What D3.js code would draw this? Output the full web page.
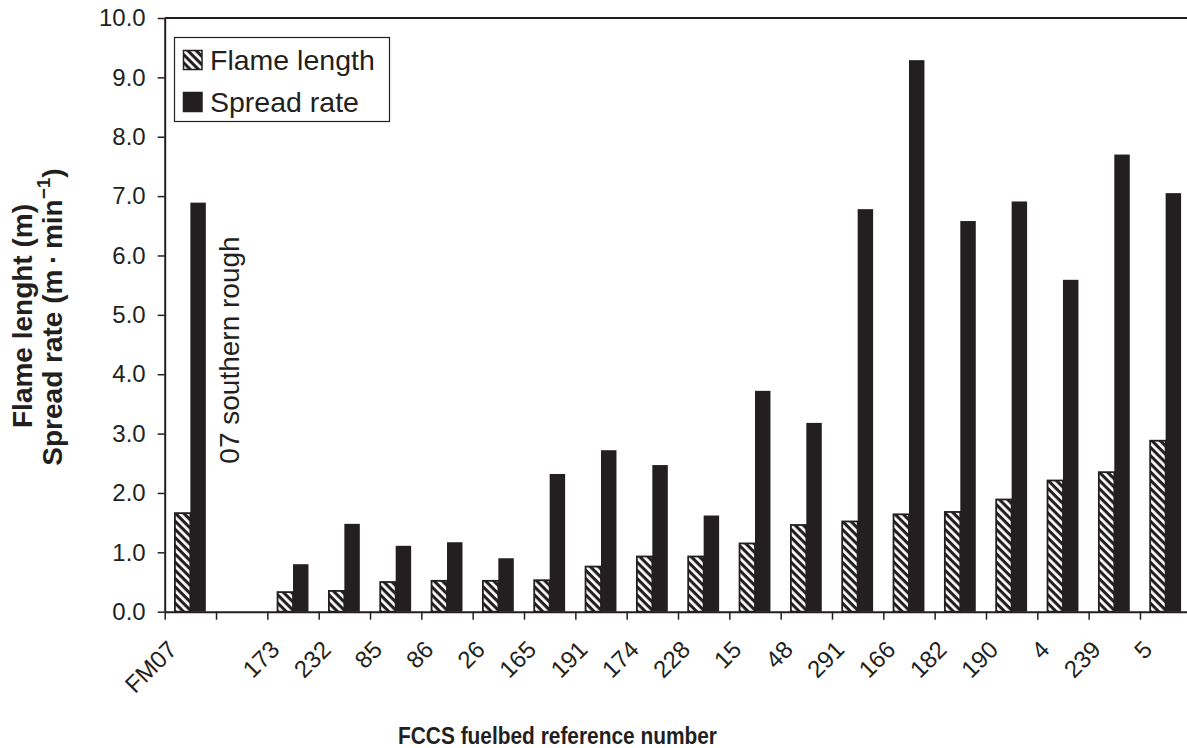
<!DOCTYPE html>
<html>
<head>
<meta charset="utf-8">
<script src="https://cdn.jsdelivr.net/npm/d3@7"></script>
<style>
  html, body { margin: 0; padding: 0; background: #fff; }
  svg { display: block; font-family: "Liberation Sans", Arial, Helvetica, sans-serif; }
</style>
</head>
<body>
<svg id="chart" width="1187" height="748"></svg>
<script>
// Fuelbed categories (second slot is an intentional empty gap)
const categories = ["FM07", "", "173", "232", "85", "86", "26", "165", "191", "174",
                    "228", "15", "48", "291", "166", "182", "190", "4", "239", "5"];
// Flame length (m)
const flameLength = [1.66, null, 0.33, 0.35, 0.50, 0.52, 0.52, 0.53, 0.76, 0.93,
                     0.93, 1.15, 1.46, 1.52, 1.64, 1.68, 1.89, 2.21, 2.35, 2.88];
// Spread rate (m·min⁻¹)
const spreadRate = [6.89, null, 0.80, 1.48, 1.11, 1.17, 0.90, 2.32, 2.72, 2.47,
                    1.62, 3.72, 3.18, 6.78, 9.29, 6.58, 6.91, 5.59, 7.70, 7.05];
const seriesKeys = ["flame", "spread"];
const seriesNames = ["Flame length", "Spread rate"];
const yTicks = [0, 1, 2, 3, 4, 5, 6, 7, 8, 9, 10];

const ink = "#231f20";
const svg = d3.select("#chart");

const plot = { left: 164.7, right: 1191.3, top: 18, bottom: 611.7 };

const rows = categories.map((c, i) => ({ i, label: c, flame: flameLength[i], spread: spreadRate[i] }));

const x = d3.scaleBand().domain(d3.range(categories.length)).range([plot.left, plot.right]).padding(0);
const xInner = d3.scaleBand().domain(seriesKeys).range([0, x.step()]).paddingInner(0).paddingOuter(0.66);
const xEdges = d3.scaleLinear().domain([0, categories.length]).range([plot.left, plot.right]);
const y = d3.scaleLinear().domain([0, 10]).range([plot.bottom, plot.top]);

// Diagonal hatch for flame length
const defs = svg.append("defs");
const pat = defs.append("pattern")
  .attr("id", "hatch")
  .attr("patternUnits", "userSpaceOnUse")
  .attr("width", 10).attr("height", 5.8)
  .attr("patternTransform", "rotate(45)");
pat.append("rect").attr("width", 10).attr("height", 5.8).attr("fill", "#fff");
pat.append("rect").attr("width", 10).attr("height", 3.1).attr("fill", ink);

// Bars
const groups = svg.append("g").selectAll("g")
  .data(rows.filter(r => r.flame != null))
  .join("g")
  .attr("transform", d => `translate(${x(d.i)},0)`);

groups.append("rect")
  .attr("x", xInner("flame"))
  .attr("width", xInner.bandwidth())
  .attr("y", d => y(d.flame))
  .attr("height", d => y(0) - y(d.flame))
  .attr("fill", "url(#hatch)")
  .attr("stroke", ink)
  .attr("stroke-width", 1.8);

groups.append("rect")
  .attr("x", xInner("spread"))
  .attr("width", xInner.bandwidth())
  .attr("y", d => y(d.spread))
  .attr("height", d => y(0) - y(d.spread))
  .attr("fill", ink);

// Top frame line
svg.append("line")
  .attr("x1", plot.left).attr("x2", plot.right)
  .attr("y1", plot.top).attr("y2", plot.top)
  .attr("stroke", ink).attr("stroke-width", 2);

// Y axis
const yAxis = svg.append("g")
  .attr("transform", `translate(${plot.left},0)`)
  .call(d3.axisLeft(y).tickValues(yTicks).tickFormat(d3.format(".1f")).tickSize(7).tickSizeOuter(0).tickPadding(12));
yAxis.select(".domain").attr("stroke", ink).attr("stroke-width", 2);
yAxis.selectAll(".tick line").attr("stroke", ink).attr("stroke-width", 1.5);
yAxis.selectAll(".tick text")
  .attr("fill", ink)
  .style("font-size", "24px")
  .style("font-family", '"Liberation Sans", Arial, sans-serif');

// X axis: ticks at category boundaries
const xAxis = svg.append("g")
  .attr("transform", `translate(0,${plot.bottom})`)
  .call(d3.axisBottom(xEdges).tickValues(d3.range(categories.length + 1)).tickFormat("").tickSize(8).tickSizeOuter(0));
xAxis.select(".domain").attr("stroke", ink).attr("stroke-width", 2);
xAxis.selectAll(".tick line").attr("stroke", ink).attr("stroke-width", 1.5);

// Category labels, slanted
svg.append("g").selectAll("text")
  .data(rows)
  .join("text")
  .attr("transform", d => `translate(${x(d.i) + x.bandwidth() / 2 - 12},651) rotate(-45)`)
  .attr("text-anchor", "end")
  .attr("fill", ink)
  .style("font-size", "24px")
  .text(d => d.label);

// Annotation for the reference model
svg.append("text")
  .attr("transform", "translate(239,350) rotate(-90)")
  .attr("text-anchor", "middle")
  .attr("fill", ink)
  .style("font-size", "28px")
  .text("07 southern rough");

// Axis titles
svg.append("text")
  .attr("transform", "translate(557.5,744) scale(0.87,1)")
  .attr("text-anchor", "middle")
  .attr("fill", ink)
  .style("font-size", "24px")
  .style("font-weight", "bold")
  .text("FCCS fuelbed reference number");

svg.append("text")
  .attr("transform", "translate(32,316) rotate(-90)")
  .attr("text-anchor", "middle")
  .attr("fill", ink)
  .style("font-size", "28px")
  .style("font-weight", "bold")
  .text("Flame lenght (m)");

const t2 = svg.append("text")
  .attr("transform", "translate(62,317) rotate(-90)")
  .attr("text-anchor", "middle")
  .attr("fill", ink)
  .style("font-size", "28px")
  .style("font-weight", "bold");
t2.append("tspan").text("Spread rate (m\u2009\u00b7\u2009min");
t2.append("tspan").attr("dy", -12).style("font-size", "19px").text("\u22121");
t2.append("tspan").attr("dy", 12).text(")");

// Legend
const legend = svg.append("g");
legend.append("rect")
  .attr("x", 174.5).attr("y", 37.5).attr("width", 215).attr("height", 84)
  .attr("fill", "#fff").attr("stroke", ink).attr("stroke-width", 1.2);
const items = legend.selectAll("g.item")
  .data(seriesKeys)
  .join("g")
  .attr("class", "item")
  .attr("transform", (d, i) => `translate(0,${i * 42})`);
items.append("rect")
  .attr("x", 183.5).attr("y", 50.5).attr("width", 18.5).attr("height", 19)
  .attr("fill", d => d === "flame" ? "url(#hatch)" : ink)
  .attr("stroke", ink).attr("stroke-width", 1.5);
items.append("text")
  .attr("x", 210).attr("y", 70)
  .attr("fill", ink)
  .style("font-size", "28.5px")
  .text((d, i) => seriesNames[i]);
</script>
</body>
</html>
